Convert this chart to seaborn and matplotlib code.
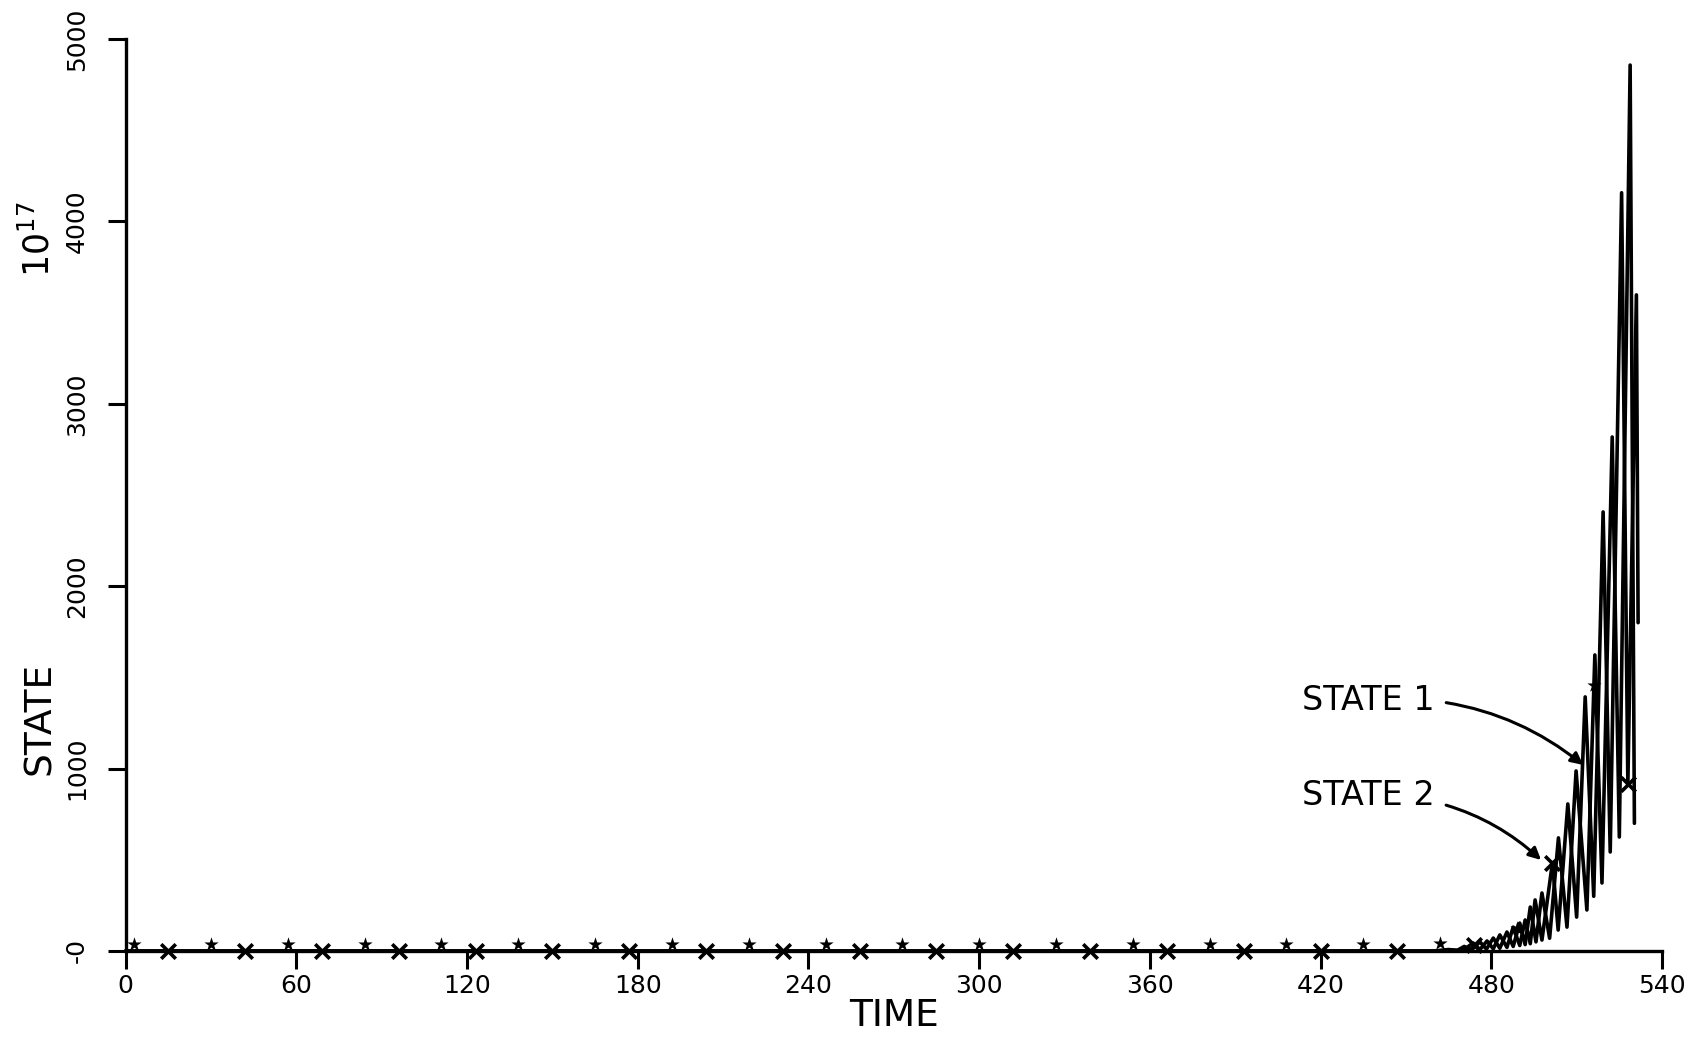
import numpy as np
import pandas as pd
import matplotlib
matplotlib.use("Agg")
import matplotlib.pyplot as plt
from matplotlib.markers import MarkerStyle
from matplotlib.path import Path
import seaborn as sns

# ─── DATA (units of 10^17) ────────────────────────────────────────────────
state1_t = [0, 460, 465, 468, 470.5, 473, 476, 478.3, 480.7, 483, 485.5, 487.7,
            490, 491.9, 493.7, 495.7, 497.8, 500.5, 503.6, 506.6, 509.8, 513.6,
            516.4, 518.9, 522.5, 525, 528.8, 530.3]
state1_v = [0, 0, 8, 3, 25, 5, 50, 10, 71, 15, 104, 25,
            153, 35, 241, 50, 318, 70, 620, 131, 987, 225,
            1623, 373, 2818, 625, 4857, 700]

state2_t = [0, 460, 466, 470, 473.6, 476, 478.5, 480.7, 483, 485.5, 487.7, 490,
            491.9, 493.7, 495.4, 497.8, 501.5, 503.5, 506.9, 510, 513, 516,
            519.3, 521.8, 525.8, 528, 531, 531.6]
state2_v = [0, 0, 5, 3, 44, 8, 55, 12, 88, 20, 131, 30,
            170, 40, 280, 60, 485, 115, 806, 186, 1393, 300,
            2407, 543, 4157, 915, 3597, 1800]

# marker positions
star_t = [3, 30, 57, 84, 111, 138, 165, 192, 219, 246, 273, 300, 327, 354,
          381, 408, 435, 462, 489, 516]
star_v = [0, 0, 0, 0, 0, 0, 0, 0, 0, 0, 0, 0, 0, 0,
          0, 0, 0, 5, 90, 1420]
cross_t = [15, 42, 69, 96, 123, 150, 177, 204, 231, 258, 285, 312, 339, 366,
           393, 420, 447, 474, 501.5, 528]
cross_v = [0, 0, 0, 0, 0, 0, 0, 0, 0, 0, 0, 0, 0, 0,
           0, 0, 0, 35, 485, 915]

x_ticks = [0, 60, 120, 180, 240, 300, 360, 420, 480, 540]
y_ticks = [0, 1000, 2000, 3000, 4000, 5000]
y_tick_labels = ['-0', '1000', '2000', '3000', '4000', '5000']

df1 = pd.DataFrame({'time': state1_t, 'state': state1_v})
df2 = pd.DataFrame({'time': state2_t, 'state': state2_v})
stars = pd.DataFrame({'time': star_t, 'state': star_v})
crosses = pd.DataFrame({'time': cross_t, 'state': cross_v})

sns.set_style("white")
plt.rcParams['font.family'] = ['DejaVu Sans']
plt.rcParams['text.color'] = 'black'
plt.rcParams['axes.labelcolor'] = 'black'

fig = plt.figure(figsize=(16.98, 10.39), dpi=100)
ax = fig.add_axes([0.07397, 0.08470, 0.90483, 0.87777])

# star marker drawn slightly above the point (plotter style)
star_path = MarkerStyle('*').get_path()
star_verts = star_path.vertices.copy()
star_verts[:, 1] += 0.9
star_marker = Path(star_verts, star_path.codes)

for d in (df1, df2):
    sns.lineplot(data=d, x='time', y='state', ax=ax, color='black', lw=2.6,
                 sort=False, estimator=None, clip_on=False)

sns.scatterplot(data=stars, x='time', y='state', ax=ax, marker=star_marker,
                s=420, color='black', linewidth=0, clip_on=False, zorder=5)
sns.scatterplot(data=crosses, x='time', y='state', ax=ax, marker='x',
                s=110, color='black', linewidth=2.6, clip_on=False, zorder=5)

ax.set_xlim(0, 540)
ax.set_ylim(0, 5000)
ax.set_xticks(x_ticks)
ax.set_xticklabels([str(v) for v in x_ticks])
ax.set_yticks(y_ticks)
ax.set_yticklabels(y_tick_labels, rotation=90, va='center')

sns.despine(ax=ax, top=True, right=True)
for side in ('left', 'bottom'):
    ax.spines[side].set_linewidth(2.4)
    ax.spines[side].set_color('black')
ax.tick_params(axis='both', direction='out', length=13, width=2.2,
               color='black', labelsize=18, labelcolor='black')
ax.tick_params(axis='x', pad=3.5, bottom=True)
ax.tick_params(axis='y', pad=13.5, left=True)

ax.set_xlabel('TIME', fontsize=27, va='center')
ax.xaxis.set_label_coords(0.5, -0.0713)
ax.set_ylabel('STATE', fontsize=27, va='center', rotation=90)
ax.yaxis.set_label_coords(-0.0557, 0.255)
ax.text(-0.0565, 0.78, r'$\mathregular{10^{17}}$', transform=ax.transAxes,
        rotation=90, fontsize=25, ha='center', va='center')

# curve labels
ax.annotate('STATE 1', xy=(512.3, 1020), xytext=(413.5, 1376),
            fontsize=24, va='center', ha='left',
            arrowprops=dict(arrowstyle='-|>', color='black', lw=2.2,
                            mutation_scale=18, shrinkA=6, shrinkB=0,
                            connectionstyle='arc3,rad=-0.2'))
ax.annotate('STATE 2', xy=(497.5, 499), xytext=(413.5, 855),
            fontsize=24, va='center', ha='left',
            arrowprops=dict(arrowstyle='-|>', color='black', lw=2.2,
                            mutation_scale=18, shrinkA=6, shrinkB=0,
                            connectionstyle='arc3,rad=-0.2'))

plt.savefig('out.png', dpi=100)
